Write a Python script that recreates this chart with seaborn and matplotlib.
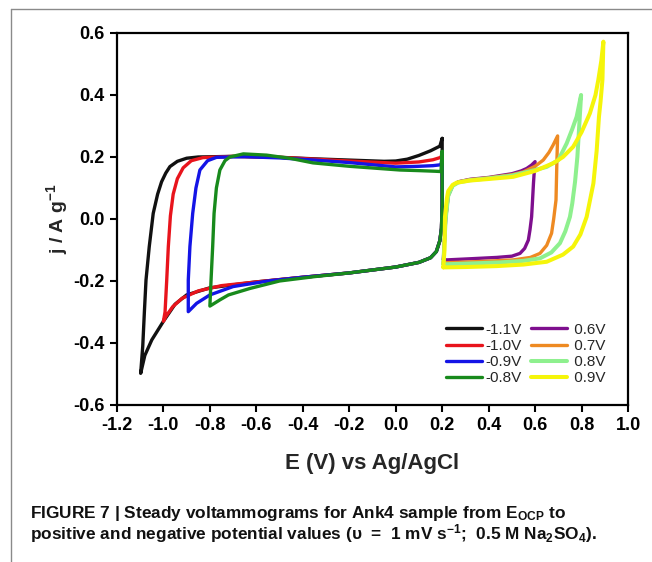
import numpy as np
import pandas as pd
import matplotlib
matplotlib.use("Agg")
import matplotlib.pyplot as plt
from matplotlib.lines import Line2D
import seaborn as sns

# Curvas: E (V vs Ag/AgCl) e j (A/g), cada ciclo fechado
labels = ["-1.1V", "-1.0V", "-0.9V", "-0.8V", " 0.6V", " 0.7V", " 0.8V", " 0.9V"]
colors = ["#111111", "#e8141c", "#1414e6", "#188a1c",
          "#7e0f8e", "#ee8a22", "#8ef08e", "#f5f50a"]

# -1.1 V
E_m11 = [0.20, 0.20, 0.197, 0.19, 0.175, 0.15, 0.10, 0.0, -0.2, -0.4, -0.6, -0.8,
         -0.9, -0.95, -1.0, -1.05, -1.08, -1.098,
         -1.089, -1.082, -1.075, -1.061, -1.044, -1.025, -1.008, -0.99, -0.972, -0.94,
         -0.9, -0.85, -0.7, -0.5, -0.35, -0.2, -0.05, 0.0, 0.05, 0.1, 0.15, 0.19, 0.20]
J_m11 = [0.26, 0.05, -0.03, -0.07, -0.105, -0.125, -0.14, -0.155, -0.174, -0.188, -0.203, -0.222,
         -0.245, -0.275, -0.33, -0.39, -0.44, -0.498,
         -0.41, -0.30, -0.197, -0.089, 0.018, 0.08, 0.12, 0.148, 0.169, 0.186,
         0.196, 0.200, 0.202, 0.199, 0.194, 0.190, 0.186, 0.187, 0.193, 0.205, 0.22, 0.235, 0.26]

# -1.0 V
E_m10 = [0.20, 0.20, 0.197, 0.19, 0.175, 0.15, 0.10, 0.0, -0.2, -0.4, -0.6, -0.75,
         -0.85, -0.92, -0.96, -0.99, -1.0,
         -0.993, -0.986, -0.979, -0.97, -0.958, -0.94, -0.915, -0.88, -0.83,
         -0.7, -0.5, -0.35, -0.2, 0.0, 0.1, 0.16, 0.195, 0.20]
J_m10 = [0.215, 0.05, -0.03, -0.07, -0.105, -0.125, -0.14, -0.155, -0.174, -0.188, -0.203, -0.215,
         -0.232, -0.256, -0.283, -0.315, -0.33,
         -0.30, -0.20, -0.09, 0.01, 0.08, 0.13, 0.165, 0.188, 0.198,
         0.202, 0.199, 0.193, 0.187, 0.180, 0.184, 0.191, 0.199, 0.215]

# -0.9 V
E_m09 = [0.20, 0.20, 0.197, 0.19, 0.175, 0.15, 0.10, 0.0, -0.2, -0.4, -0.55, -0.7,
         -0.8, -0.857, -0.893,
         -0.893, -0.886, -0.874, -0.86, -0.843, -0.81, -0.771,
         -0.65, -0.5, -0.35, -0.2, 0.0, 0.1, 0.16, 0.195, 0.20]
J_m09 = [0.20, 0.05, -0.03, -0.07, -0.105, -0.125, -0.14, -0.155, -0.174, -0.188, -0.200, -0.218,
         -0.245, -0.272, -0.299,
         -0.197, -0.089, 0.018, 0.10, 0.158, 0.188, 0.199,
         0.201, 0.197, 0.190, 0.182, 0.168, 0.170, 0.172, 0.175, 0.20]

# -0.8 V
E_m08 = [0.20, 0.20, 0.197, 0.19, 0.175, 0.15, 0.10, 0.0, -0.2, -0.35, -0.5, -0.627,
         -0.72, -0.757, -0.8,
         -0.795, -0.788, -0.782, -0.772, -0.757, -0.735, -0.714, -0.656, -0.556,
         -0.45, -0.356, -0.2, 0.018, 0.1, 0.17, 0.195, 0.20]
J_m08 = [0.218, 0.05, -0.03, -0.07, -0.105, -0.125, -0.14, -0.155, -0.174, -0.186, -0.200, -0.224,
         -0.245, -0.261, -0.281,
         -0.197, -0.089, 0.018, 0.10, 0.158, 0.188, 0.200, 0.210, 0.206,
         0.195, 0.181, 0.170, 0.158, 0.156, 0.154, 0.153, 0.218]

# 0.6 V
E_p06 = [0.205, 0.21, 0.215, 0.226, 0.245, 0.27, 0.32, 0.4, 0.5, 0.54, 0.564, 0.585, 0.60,
         0.597, 0.593, 0.589, 0.585, 0.578, 0.571, 0.555, 0.535, 0.5, 0.435, 0.33, 0.219, 0.205]
J_p06 = [-0.13, -0.07, 0.0, 0.075, 0.108, 0.12, 0.128, 0.134, 0.146, 0.155, 0.163, 0.174, 0.185,
         0.16, 0.115, 0.06, 0.007, -0.035, -0.068, -0.095, -0.111, -0.12, -0.124, -0.128, -0.132, -0.13]

# 0.7 V
E_p07 = [0.205, 0.21, 0.215, 0.226, 0.245, 0.27, 0.32, 0.4, 0.5, 0.55, 0.6, 0.635, 0.66, 0.678, 0.697,
         0.694, 0.69, 0.68, 0.671, 0.65, 0.621, 0.58, 0.506, 0.4, 0.3, 0.219, 0.205]
J_p07 = [-0.14, -0.07, 0.0, 0.075, 0.108, 0.12, 0.127, 0.133, 0.143, 0.152, 0.17, 0.19, 0.215, 0.239, 0.268,
         0.19, 0.061, 0.0, -0.046, -0.085, -0.111, -0.124, -0.132, -0.136, -0.139, -0.141, -0.14]

# 0.8 V
E_p08 = [0.205, 0.21, 0.215, 0.226, 0.245, 0.27, 0.32, 0.4, 0.5, 0.6, 0.65, 0.7, 0.736, 0.76, 0.779, 0.798,
         0.79, 0.782, 0.772, 0.76, 0.75, 0.73, 0.707, 0.67, 0.621, 0.55, 0.45, 0.3, 0.219, 0.205]
J_p08 = [-0.146, -0.07, 0.0, 0.075, 0.107, 0.118, 0.125, 0.131, 0.14, 0.158, 0.168, 0.19, 0.244, 0.29, 0.33, 0.40,
         0.30, 0.20, 0.12, 0.05, 0.007, -0.04, -0.078, -0.108, -0.127, -0.135, -0.14, -0.144, -0.146, -0.146]

# 0.9 V
E_p09 = [0.205, 0.21, 0.212, 0.22, 0.226, 0.245, 0.262, 0.32, 0.4, 0.506, 0.6, 0.678, 0.72, 0.764, 0.8,
         0.836, 0.86, 0.872, 0.885, 0.894,
         0.89, 0.882, 0.875, 0.865, 0.851, 0.822, 0.795, 0.764, 0.72, 0.65, 0.55, 0.435, 0.3, 0.212, 0.205]
J_p09 = [-0.156, -0.10, 0.007, 0.065, 0.09, 0.11, 0.117, 0.124, 0.129, 0.136, 0.155, 0.18, 0.20, 0.233, 0.28,
         0.341, 0.40, 0.448, 0.51, 0.572,
         0.45, 0.38, 0.33, 0.22, 0.115, 0.007, -0.05, -0.089, -0.115, -0.138, -0.147, -0.152, -0.155, -0.156, -0.156]

x_ticks = [-1.2, -1.0, -0.8, -0.6, -0.4, -0.2, 0.0, 0.2, 0.4, 0.6, 0.8, 1.0]
y_ticks = [-0.6, -0.4, -0.2, 0.0, 0.2, 0.4, 0.6]

curves = [(E_m11, J_m11), (E_m10, J_m10), (E_m09, J_m09), (E_m08, J_m08),
          (E_p06, J_p06), (E_p07, J_p07), (E_p08, J_p08), (E_p09, J_p09)]

sns.set_theme(style="ticks")
plt.rcParams['font.family'] = ['Liberation Sans', 'DejaVu Sans']
plt.rcParams['mathtext.default'] = 'regular'

fig = plt.figure(figsize=(6.52, 5.62), dpi=100)
ax = fig.add_axes([0.1794, 0.2794, 0.7838, 0.6619])

for (E, J), lab, col in zip(curves, labels, colors):
    df = pd.DataFrame({'E': E, 'j': J})
    lw = 2.9 if col in ("#f5f50a", "#8ef08e") else 2.4
    sns.lineplot(data=df, x='E', y='j', sort=False, estimator=None, color=col,
                 lw=lw, label=lab, ax=ax)

ax.set_xlim(-1.2, 1.0)
ax.set_ylim(-0.6, 0.6)
ax.set_xticks(x_ticks)
ax.set_yticks(y_ticks)
ax.set_xticklabels([f"{v:.1f}" for v in x_ticks], fontsize=13, fontweight='bold')
ax.set_yticklabels([f"{v:.1f}" for v in y_ticks], fontsize=13, fontweight='bold')
ax.tick_params(axis='both', direction='out', length=5, width=1.5, pad=4, colors='black')
for sp in ax.spines.values():
    sp.set_visible(True)
    sp.set_linewidth(1.6)
    sp.set_color('black')

ax.set_xlabel("E (V) vs Ag/AgCl", fontsize=16, fontweight='bold', labelpad=13)
ax.set_ylabel("j / A g$^{-1}$", fontsize=14, fontweight='bold', labelpad=2)

ax.legend(ncol=2, loc='center', bbox_to_anchor=(0.80, 0.137), frameon=False,
          fontsize=11, handlelength=2.4, handletextpad=0.2, columnspacing=0.6,
          labelspacing=0.15, borderpad=0.2)

# moldura cinza da figura
fig.add_artist(Line2D([11/652, 11/652], [0, 1 - 9/562], color='#8a8a8a', lw=1.0))
fig.add_artist(Line2D([11/652, 1], [1 - 9/562, 1 - 9/562], color='#8a8a8a', lw=1.0))

fig.text(30/652, 1 - 518/562,
         "FIGURE 7 | Steady voltammograms for Ank4 sample from E$_{OCP}$ to",
         fontsize=12.4, fontweight='bold', va='baseline', ha='left', color='#111111')
fig.text(30/652, 1 - 539/562,
         "positive and negative potential values (υ  =  1 mV s$^{-1}$;  0.5 M Na$_2$SO$_4$).",
         fontsize=12.4, fontweight='bold', va='baseline', ha='left', color='#111111')

fig.savefig("out.png", dpi=100)
